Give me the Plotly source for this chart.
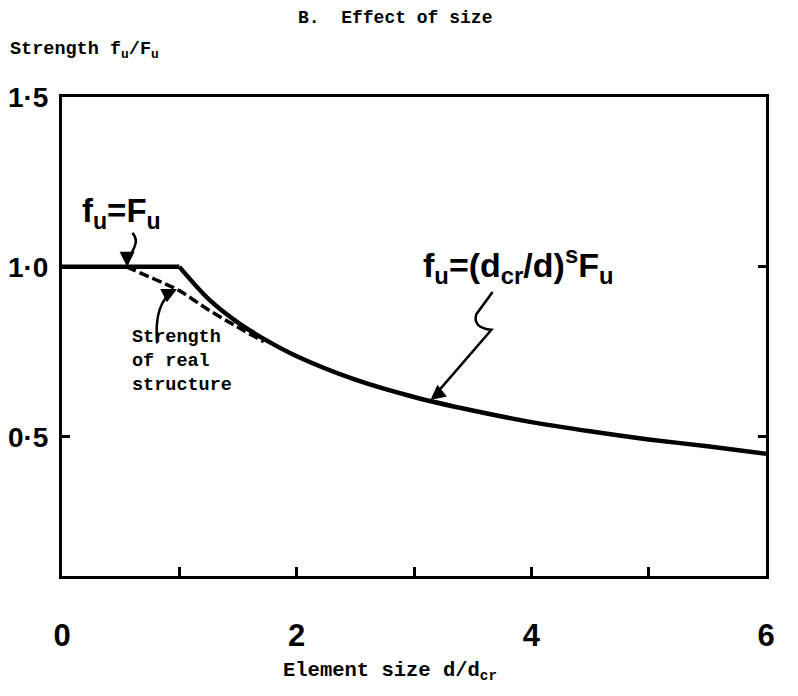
import plotly.graph_objects as go

# Element size (d/d_cr) and strength (f_u/F_u)
plateau_x = [0.0, 1.0]
plateau_y = [1.0, 1.0]
size_x = [1.0, 1.25, 1.5, 1.75, 2.0, 2.5, 3.0, 3.5, 4.0, 4.5, 5.0, 5.5, 6.0]
size_y = [1.0, 0.905, 0.836, 0.782, 0.737, 0.668, 0.617, 0.577, 0.543, 0.516, 0.492, 0.472, 0.45]
real_x = [0.55, 0.8, 1.0, 1.25, 1.5, 1.72]
real_y = [1.0, 0.962, 0.93, 0.873, 0.822, 0.78]

x_tickvals = [0, 1, 2, 3, 4, 5, 6]
x_ticktext = ["0", "", "2", "", "4", "", "6"]
y_tickvals = [0.5, 1.0, 1.5]
y_ticktext = ["0·5", "1·0", "1·5"]

HAND = "Liberation Sans, Arial, sans-serif"
MONO = "Liberation Mono, Courier New, monospace"
INK = "black"

fig = go.Figure()
fig.add_trace(go.Scatter(x=plateau_x, y=plateau_y, mode="lines",
                         line=dict(color=INK, width=4.5), showlegend=False))
fig.add_trace(go.Scatter(x=size_x, y=size_y, mode="lines",
                         line=dict(color=INK, width=4.5, shape="spline", smoothing=0.8),
                         showlegend=False))
fig.add_trace(go.Scatter(x=real_x, y=real_y, mode="lines",
                         line=dict(color=INK, width=3.5, dash="10px,4px", shape="spline"),
                         showlegend=False))

# leader lines for the labels
shapes = [
    dict(type="path", path="M 0.60,1.10 C 0.68,1.07 0.57,1.04 0.56,1.01",
         line=dict(color=INK, width=2.5)),
    dict(type="path", path="M 0.81,0.775 C 0.79,0.86 0.85,0.91 0.96,0.93",
         line=dict(color=INK, width=2.5)),
    dict(type="path", path="M 3.67,0.926 L 3.53,0.86 Q 3.50,0.82 3.66,0.815 L 3.16,0.615",
         line=dict(color=INK, width=2.5)),
]

annotations = [
    # arrowheads
    dict(x=0.555, y=1.0, ax=0, ay=-12, text="", showarrow=True, arrowhead=2,
         arrowsize=1.2, arrowwidth=2.5, arrowcolor=INK),
    dict(x=0.98, y=0.935, ax=-10, ay=5, text="", showarrow=True, arrowhead=2,
         arrowsize=1.2, arrowwidth=2.5, arrowcolor=INK),
    dict(x=3.14, y=0.608, ax=10, ay=-8, text="", showarrow=True, arrowhead=2,
         arrowsize=1.2, arrowwidth=2.5, arrowcolor=INK),
    # labels
    dict(x=0.51, y=1.16, text="<b>f<sub>u</sub>=F<sub>u</sub></b>", showarrow=False,
         font=dict(family=HAND, size=33, color=INK)),
    dict(x=3.89, y=1.005, text="<b>f<sub>u</sub>=(d<sub>cr</sub>/d)<sup>s</sup>F<sub>u</sub></b>",
         showarrow=False, font=dict(family=HAND, size=34, color=INK)),
    dict(x=0.58, y=0.72, text="<b>Strength<br>of real<br>structure</b>", showarrow=False,
         xanchor="left", yanchor="middle", align="left",
         font=dict(family=MONO, size=18.5, color=INK)),
    # titles
    dict(x=0.473, y=1.165, xref="paper", yref="paper", text="<b>B.  Effect of size</b>",
         showarrow=False, xanchor="center", yanchor="middle",
         font=dict(family=MONO, size=18, color=INK)),
    dict(x=-0.077, y=1.098, xref="paper", yref="paper", xanchor="left", yanchor="middle",
         text="<b>Strength f<sub>u</sub>/F<sub>u</sub></b>",
         showarrow=False, font=dict(family=MONO, size=18.5, color=INK)),
    dict(x=0.466, y=-0.200, xref="paper", yref="paper", xanchor="center", yanchor="middle",
         text="<b>Element size d/d<sub>cr</sub></b>",
         showarrow=False, font=dict(family=MONO, size=20.5, color=INK)),
]

fig.update_layout(
    width=798, height=696,
    margin=dict(l=62, r=32, t=97, b=120),
    paper_bgcolor="white", plot_bgcolor="white",
    shapes=shapes, annotations=annotations,
    xaxis=dict(range=[0, 6], tickvals=x_tickvals, ticktext=x_ticktext,
               ticks="inside", ticklen=9, tickwidth=2.5, tickcolor=INK,
               showline=True, linewidth=3, linecolor=INK, mirror=True,
               showgrid=False, zeroline=False, ticklabelstandoff=30, automargin=False,
               tickfont=dict(family=HAND, size=31, color=INK, weight="bold")),
    yaxis=dict(range=[0.09, 1.5], tickvals=y_tickvals, ticktext=y_ticktext,
               ticks="inside", ticklen=8, tickwidth=2.5, tickcolor=INK,
               showline=True, linewidth=3, linecolor=INK, mirror="ticks",
               showgrid=False, zeroline=False, ticklabelstandoff=5, automargin=False,
               tickfont=dict(family=HAND, size=28, color=INK, weight="bold")),
)

fig.write_html("out.html")
